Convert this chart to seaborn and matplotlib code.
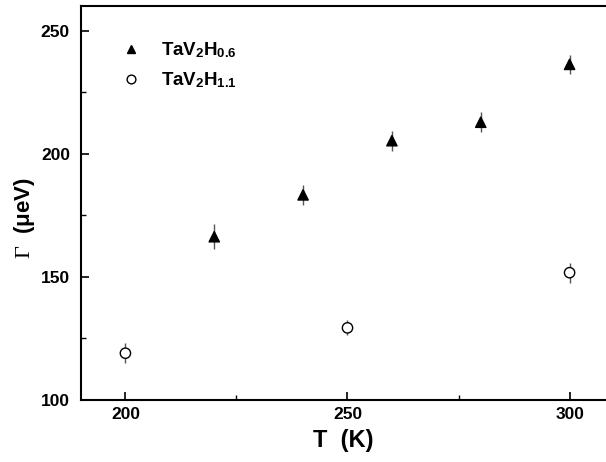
import matplotlib
matplotlib.use("Agg")
import matplotlib.pyplot as plt
import seaborn as sns
import pandas as pd
from matplotlib.ticker import MultipleLocator

sns.set_theme(style="white")
plt.rcParams['font.family'] = ['Liberation Sans', 'DejaVu Sans']
plt.rcParams['mathtext.fontset'] = 'custom'
plt.rcParams['mathtext.rm'] = 'Liberation Serif'
plt.rcParams['mathtext.bf'] = 'Liberation Sans:bold'
plt.rcParams['mathtext.it'] = 'Liberation Serif:italic'
plt.rcParams['xtick.direction'] = 'in'
plt.rcParams['ytick.direction'] = 'in'

# Data
T_06 = [220, 240, 260, 280, 300]
G_06 = [166.3, 183.3, 205.3, 212.8, 236.3]
E_06 = [5.0, 4.0, 4.0, 4.0, 4.0]
T_11 = [200, 250, 300]
G_11 = [119.0, 129.3, 151.7]
E_11 = [4.0, 3.0, 4.0]
label_06 = r'TaV$_{\mathbf{2}}$H$_{\mathbf{0.6}}$'
label_11 = r'TaV$_{\mathbf{2}}$H$_{\mathbf{1.1}}$'

df = pd.DataFrame({
    'T': T_06 + T_11,
    'G': G_06 + G_11,
    'E': E_06 + E_11,
    'sample': [label_06] * len(T_06) + [label_11] * len(T_11),
})

fig = plt.figure(figsize=(6.06, 4.62), dpi=100)
ax = fig.add_axes([81/606, 62/462, 1 - 81/606, (400-6)/462])

for T, G, E in zip(df['T'], df['G'], df['E']):
    ax.errorbar(T, G, yerr=E, fmt='none', ecolor='#555555', elinewidth=1.0, capsize=0, zorder=1)

sns.scatterplot(data=df, x='T', y='G', hue='sample', style='sample',
                markers={label_06: '^', label_11: 'o'},
                palette={label_06: 'black', label_11: 'white'},
                edgecolor='black', linewidth=1.0, s=55, ax=ax, zorder=3, legend=True)

ax.set_xlim(190, 308.2)
ax.set_ylim(100, 260)
ax.xaxis.set_major_locator(MultipleLocator(50))
ax.xaxis.set_minor_locator(MultipleLocator(25))
ax.yaxis.set_major_locator(MultipleLocator(50))
ax.yaxis.set_minor_locator(MultipleLocator(25))
ax.tick_params(axis='both', which='major', direction='in', length=6, width=1.2,
               labelsize=12.5, colors='black', labelcolor='black', bottom=True, left=True)
ax.tick_params(axis='both', which='minor', direction='in', length=3.5, width=1.0,
               colors='black', bottom=True, left=True)
for lbl in ax.get_xticklabels() + ax.get_yticklabels():
    lbl.set_fontweight('bold')
ax.tick_params(axis='x', which='major', pad=5)
ax.tick_params(axis='y', which='major', pad=8)

for side in ['left', 'bottom', 'top']:
    ax.spines[side].set_visible(True)
    ax.spines[side].set_color('black')
    ax.spines[side].set_linewidth(1.5)
ax.spines['right'].set_visible(False)

ax.set_xlabel('T  (K)', fontsize=17, fontweight='bold', color='black', labelpad=5)
ax.set_ylabel(r'$\Gamma$  (μeV)', fontsize=16, fontweight='bold', color='black')
ax.yaxis.set_label_coords(-0.084, 0.462)

handles, labels = ax.get_legend_handles_labels()
leg = ax.legend(handles=handles, labels=labels, loc='upper left', frameon=False,
                bbox_to_anchor=(0.046, 0.955), fontsize=13.5, handlelength=1.0,
                handletextpad=1.1, labelspacing=0.55, markerscale=0.85)
for t in leg.get_texts():
    t.set_fontweight('bold')
    t.set_color('black')
for h in leg.legend_handles:
    try:
        h.set_markeredgecolor('black')
    except AttributeError:
        h.set_edgecolor('black')

fig.savefig('out.png', dpi=100)
